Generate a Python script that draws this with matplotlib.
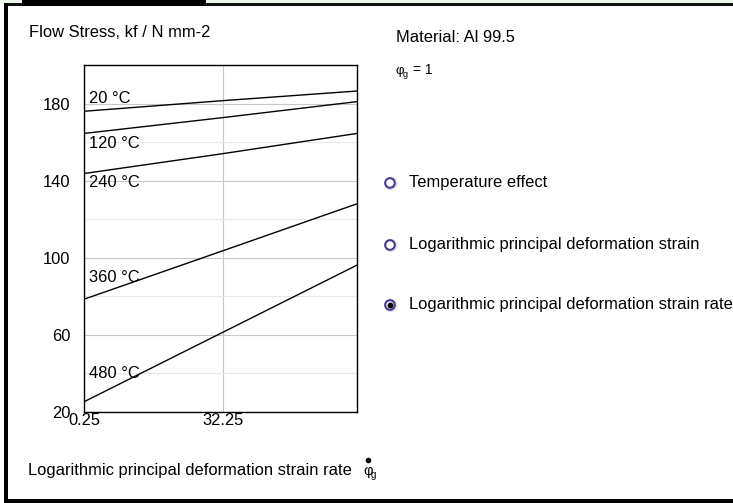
import matplotlib
matplotlib.use('Agg')
import matplotlib.pyplot as plt
from matplotlib.patches import Rectangle, Circle

plt.rcParams['font.family'] = ['Liberation Sans', 'DejaVu Sans']

# strain rate values at the left edge, grid line and right edge
strain_rate = [0.25, 32.25, 63.25]
temperatures = ['20 °C', '120 °C', '240 °C', '360 °C', '480 °C']
flow_stress = [
    [176.0, 181.5, 186.5],
    [164.5, 172.7, 181.0],
    [143.7, 154.0, 164.5],
    [78.5, 103.6, 128.0],
    [25.3, 61.3, 96.2],
]
label_y = [182.5, 159.5, 139.0, 90.0, 40.0]
options = ['Temperature effect',
           'Logarithmic principal deformation strain',
           'Logarithmic principal deformation strain rate']
selected = 2

W, H = 733, 503
fig = plt.figure(figsize=(W / 100, H / 100), dpi=100)

# page overlay in pixel coordinates
page = fig.add_axes([0, 0, 1, 1])
page.set_xlim(0, W)
page.set_ylim(H, 0)
page.axis('off')

# frame around the panel
page.add_patch(Rectangle((0, 0), W, 2.5, color='#eef6ee', lw=0))
page.add_patch(Rectangle((4, 2.5), W - 4, 3.5, color='#111111', lw=0))
page.add_patch(Rectangle((22, 0), 184, 6, color='black', lw=0))
page.add_patch(Rectangle((4, 2.5), 4, H, color='black', lw=0))
page.add_patch(Rectangle((4, 499), W, 4, color='black', lw=0))

fs = 11.9
page.text(29, 32, 'Flow Stress, kf / N mm-2', fontsize=fs, va='center', ha='left')
page.text(396, 37, 'Material: Al 99.5', fontsize=fs, va='center', ha='left')
page.text(395, 71, 'φ', fontsize=9.5, va='center', ha='left')
page.text(402.5, 74, 'g', fontsize=6.5, va='center', ha='left')
page.text(413, 70, '= 1', fontsize=10, va='center', ha='left')

page.text(28, 470, 'Logarithmic principal deformation strain rate', fontsize=fs,
          va='center', ha='left')
page.text(363, 471, 'φ', fontsize=10.5, va='center', ha='left')
page.text(371, 475, 'g', fontsize=7, va='center', ha='left')
page.plot([367.5], [459.5], 'o', color='black', ms=3)

# radio buttons
radio_y = [183, 245, 305]
for i, (ry, opt) in enumerate(zip(radio_y, options)):
    page.add_patch(Circle((391, ry + 0.5), 6, fc='#ece8f8', ec='#e4e0f4', lw=1.0))
    page.add_patch(Circle((390, ry), 4.8, fc='white', ec='#4a3a8c', lw=1.5))
    if i == selected:
        page.plot([390], [ry], 'o', color='black', ms=3.2)
    page.text(409, ry, opt, fontsize=fs, va='center', ha='left')

# chart
ax = fig.add_axes([84 / W, (H - 412) / H, 273 / W, (412 - 65) / H])
ax.set_xlim(0.25, 63.25)
ax.set_ylim(20, 200)
ax.set_yticks([20, 60, 100, 140, 180])
ax.set_yticks([40, 80, 120, 160], minor=True)
ax.set_xticks([0.25, 32.25])
ax.set_xticklabels(['0.25', '32.25'])
ax.grid(True, which='major', color='#c8c8c8', lw=0.8)
ax.grid(True, which='minor', axis='y', color='#e8e8e8', lw=0.8)
ax.tick_params(which='both', length=0, labelsize=fs)
ax.tick_params(axis='y', pad=10)
ax.tick_params(axis='x', pad=1)
for s in ax.spines.values():
    s.set_color('black')
    s.set_linewidth(1.0)
ax.set_axisbelow(True)

for temp, vals, ly in zip(temperatures, flow_stress, label_y):
    ax.plot(strain_rate, vals, color='black', lw=1.0)
    ax.text(1.3, ly, temp, fontsize=fs, va='center', ha='left')

fig.savefig('out.png', dpi=100)
